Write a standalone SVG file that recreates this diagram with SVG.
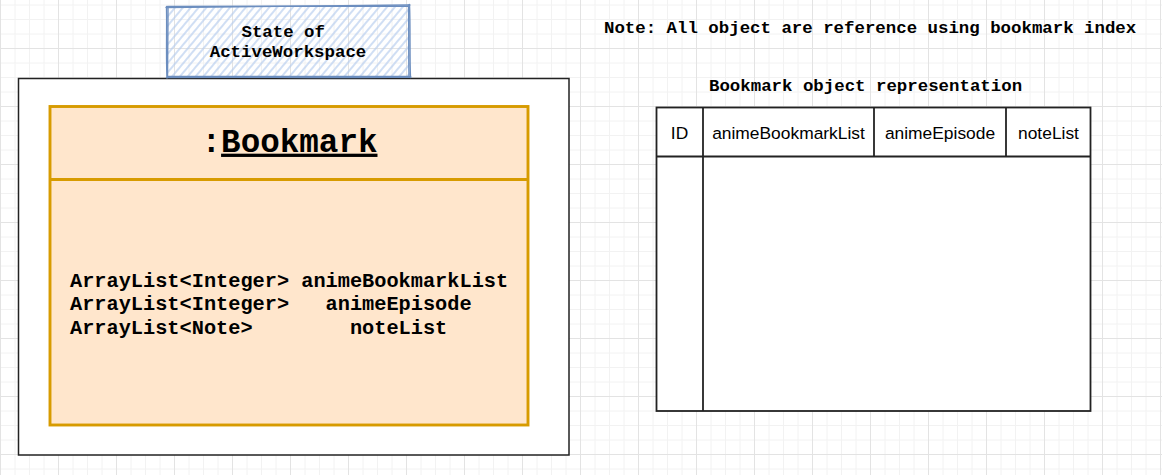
<svg xmlns="http://www.w3.org/2000/svg" width="1162" height="475" viewBox="0 0 1162 475">
<defs>
<pattern id="grid" width="58" height="58" patternUnits="userSpaceOnUse" x="0" y="48">
<path d="M15 0V58M29.5 0V58M44 0V58M0 15H58M0 29.5H58M0 44H58" stroke="#f2f2f2" stroke-width="1" fill="none"/>
<path d="M0.5 0V58M0 0.5H58" stroke="#e3e3e3" stroke-width="1" fill="none"/>
</pattern>
<pattern id="hatch" width="6" height="6" patternUnits="userSpaceOnUse" patternTransform="rotate(40)">
<line x1="1" y1="0" x2="1" y2="6" stroke="#b7cdee" stroke-width="1.3"/>
</pattern>
<style>
.mono{font-family:"Liberation Mono","Courier New",monospace;font-weight:bold;fill:#000}
.sans{font-family:"Liberation Sans",Arial,sans-serif;font-size:17.4px;fill:#000}
.frame{fill:#fff;stroke:#222;stroke-width:1.5}
.sketch{fill:none;stroke:#6c8ebf;stroke-width:1.4;stroke-linecap:round}
</style>
</defs>
<rect width="1162" height="475" fill="#fff"/>
<rect width="1162" height="475" fill="url(#grid)"/>

<g id="workspace">
<rect class="frame" x="18.5" y="78.5" width="550.5" height="376.5"/>
</g>

<g id="state">
<path d="M167 7 L409 5 L410 77 L167 77 Z" fill="url(#hatch)"/>
<path class="sketch" d="M166 7.5 C250 6 330 6.5 410 5 M409.5 4.5 C410.5 30 409.5 55 410.5 77.5 M411 77 C330 78 250 77 166.5 77.5 M167 78 C166 55 167 30 166.5 6.5"/>
<path class="sketch" d="M167.5 6.5 C260 7 340 5.5 408.5 6 M408.5 5 C409 30 408.5 55 409 76 M409.5 76.5 C320 77 240 76 168 76.5 M167.5 77 C167.5 50 168 30 168 8"/>
<text class="mono" font-size="17.4" x="241.5" y="36.7" xml:space="preserve">State of </text>
<text class="mono" font-size="17.4" x="288" y="56.7" text-anchor="middle">ActiveWorkspace</text>
</g>

<g id="bookmark">
<rect x="50" y="106.5" width="478" height="318.5" fill="#ffe6cc" stroke="#d79b00" stroke-width="2.9"/>
<line x1="50" y1="179.5" x2="528" y2="179.5" stroke="#d79b00" stroke-width="2.9"/>
<text class="mono" font-size="32.6" x="289.5" y="151.7" text-anchor="middle">:<tspan text-decoration="underline">Bookmark</tspan></text>
<text class="mono" font-size="20.3" xml:space="preserve"><tspan x="70" y="287">ArrayList&lt;Integer&gt; animeBookmarkList</tspan><tspan x="70" y="310.3">ArrayList&lt;Integer&gt;   animeEpisode</tspan><tspan x="70" y="333.6">ArrayList&lt;Note&gt;        noteList</tspan></text>
</g>

<g id="note">
<text class="mono" font-size="17.4" x="604" y="32.7">Note: All object are reference using bookmark index</text>
</g>

<g id="table-title">
<text class="mono" font-size="17.4" x="709" y="91">Bookmark object representation</text>
</g>

<g id="table">
<rect x="656.5" y="107.5" width="434" height="303.5" fill="#fff" stroke="#222" stroke-width="1.8"/>
<line x1="656.5" y1="156.5" x2="1090.5" y2="156.5" stroke="#222" stroke-width="1.8"/>
<line x1="703" y1="107.5" x2="703" y2="411" stroke="#222" stroke-width="1.8"/>
<line x1="874" y1="107.5" x2="874" y2="156.5" stroke="#222" stroke-width="1.8"/>
<line x1="1006" y1="107.5" x2="1006" y2="156.5" stroke="#222" stroke-width="1.8"/>
<text class="sans" x="679.5" y="139" text-anchor="middle">ID</text>
<text class="sans" x="788.5" y="139" text-anchor="middle">animeBookmarkList</text>
<text class="sans" x="940" y="139" text-anchor="middle">animeEpisode</text>
<text class="sans" x="1048.5" y="139" text-anchor="middle">noteList</text>
</g>

<g id="connectors"></g>
</svg>
